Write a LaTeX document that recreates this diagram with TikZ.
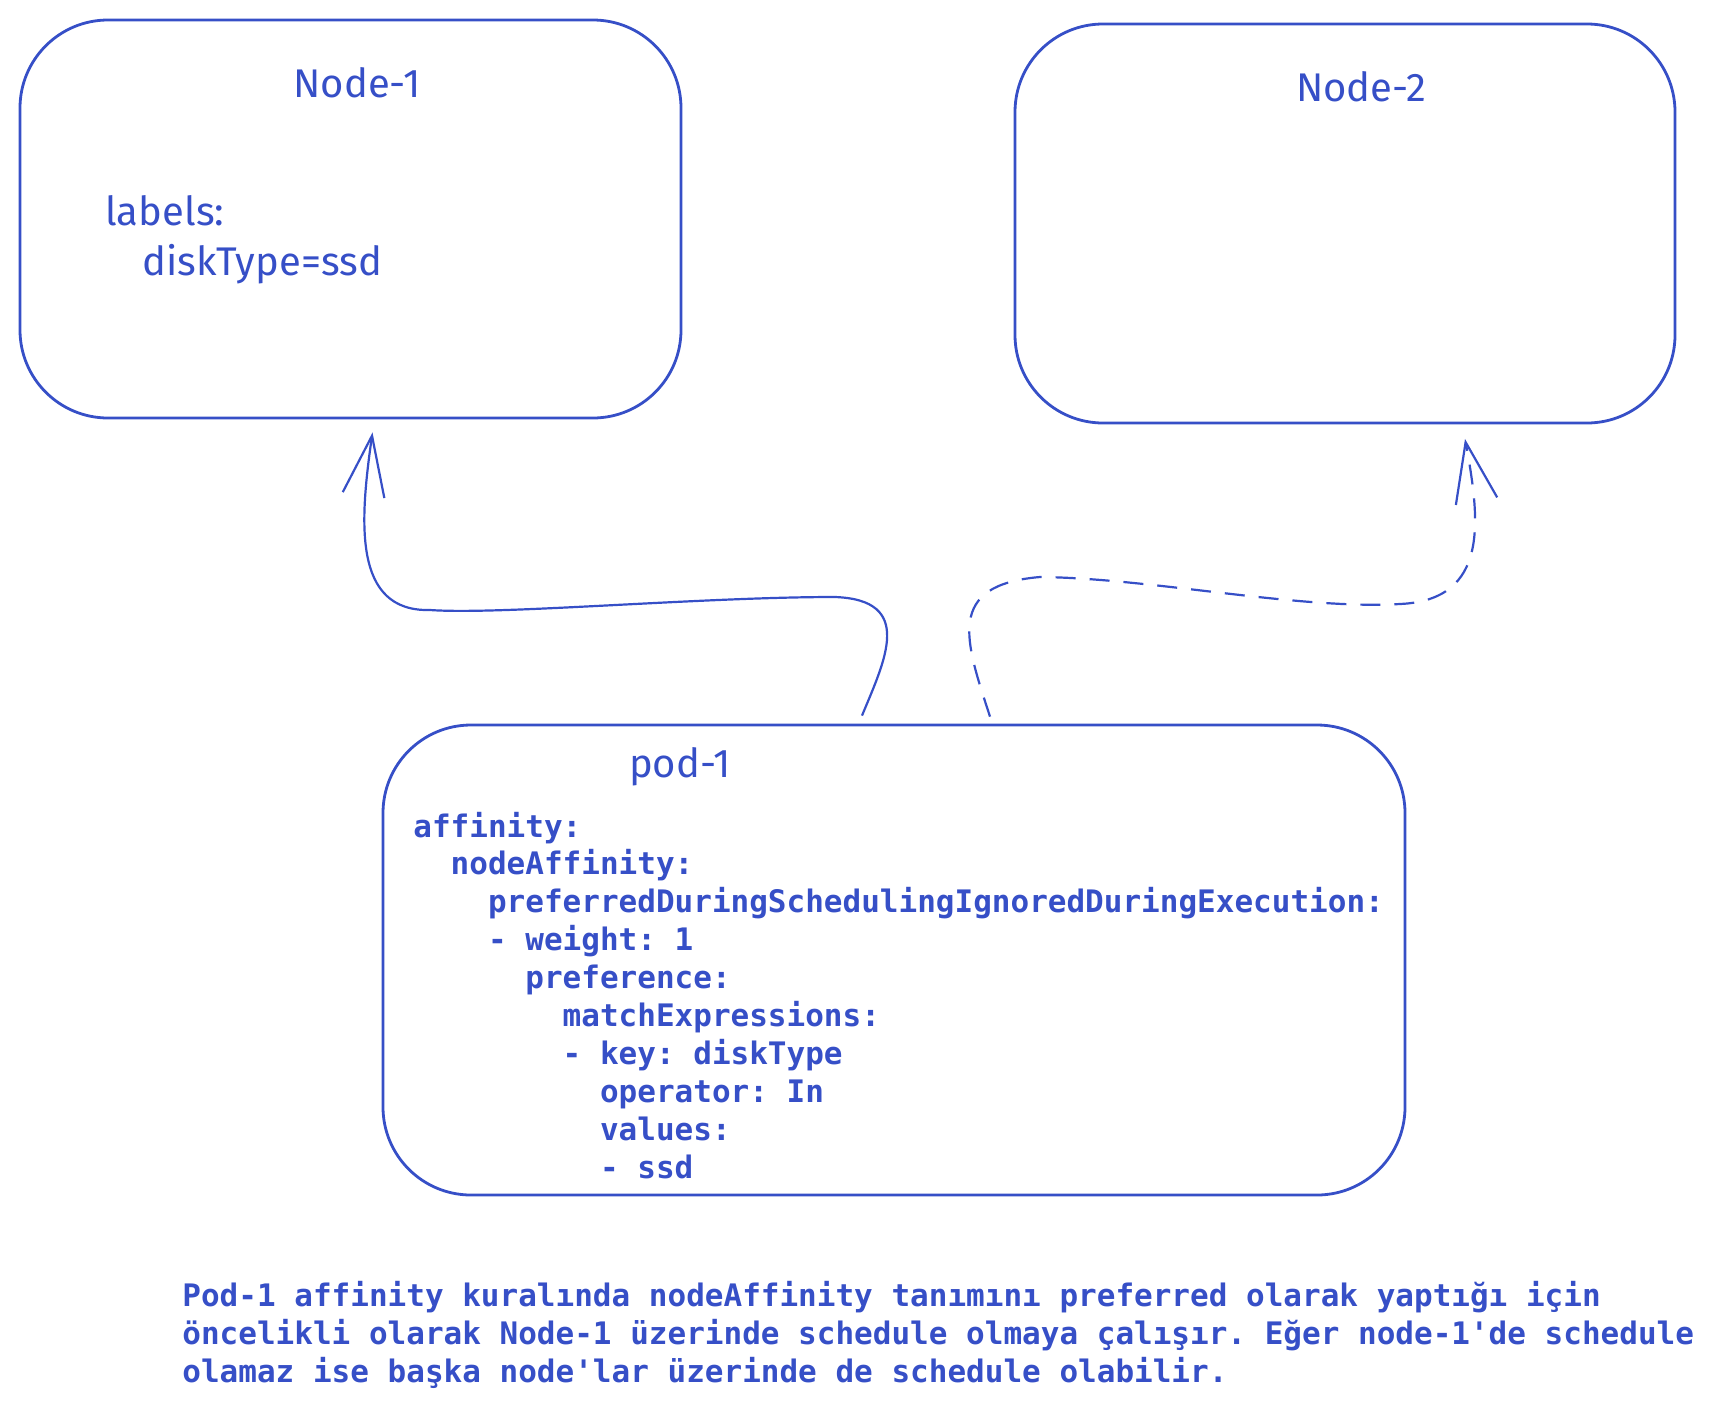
\documentclass[tikz,border=0pt]{standalone}
\usepackage{fontspec}
\setmonofont{DejaVu Sans Mono}
\newfontfamily\handfont{Fira Sans}
\usetikzlibrary{arrows.meta}
\definecolor{exblue}{HTML}{364FC7}

\begin{document}
\begin{tikzpicture}[x=0.5pt,y=-0.5pt,
  box/.style={draw=exblue,line width=1.4pt,rounded corners=44pt,inner sep=0pt},
  hand/.style={text=exblue,font=\handfont\fontsize{20}{25}\selectfont,inner sep=0pt},
  code/.style={text=exblue,font=\ttfamily\bfseries\fontsize{15.5}{19}\selectfont,inner sep=0pt,anchor=base west},
  link/.style={draw=exblue,line width=1.1pt,-{Straight Barb[length=30pt,width=21pt]}}]
  \useasboundingbox (0,0) rectangle (1719,1409);
  \node[box,minimum width=330.5pt,minimum height=199pt] (node1) at (350.5,219) {};
  \node[box,minimum width=330pt,minimum height=199.5pt] (node2) at (1345,223.5) {};
  \node[box,minimum width=511pt,minimum height=235pt] (pod1) at (894,960) {};
  \node[hand,anchor=base] (t1) at (357,97) {Node-1};
  \node[hand,anchor=base] (t2) at (1361,101) {Node-2};
  \node[hand,anchor=base] (t3) at (680,777) {pod-1};
  \node[hand,anchor=base west] (lab) at (105,225) {labels:};
  \node[hand,anchor=base west] (disk) at (142,275) {diskType=ssd};
  \foreach \t [count=\i] in {affinity:,~~nodeAffinity:,~~~~preferredDuringSchedulingIgnoredDuringExecution:,
    ~~~~- weight: 1,~~~~~~preference:,~~~~~~~~matchExpressions:,~~~~~~~~- key: diskType,
    ~~~~~~~~~~operator: In,~~~~~~~~~~values:,~~~~~~~~~~- ssd}
    \node[code] (c\i) at (413,837+37.9*\i-37.9) {\t};
  \foreach \t [count=\i] in {Pod-1 affinity kuralında nodeAffinity tanımını preferred olarak yaptığı için,
    öncelikli olarak Node-1 üzerinde schedule olmaya çalışır. Eğer node-1'de schedule,
    olamaz ise başka node'lar üzerinde de schedule olabilir.}
    \node[code] (n\i) at (182,1306+38*\i-38) {\t};
  \draw[link] ([xshift=-16pt,yshift=4pt]pod1.north)
    .. controls (885,660) and (915,600) .. (835,597)
    .. controls (700,597) and (500,615) .. (430,610)
    .. controls (352,612) and (360,520) .. ([xshift=11pt,yshift=-6.5pt]node1.south);
  \draw[link,dash pattern=on 10pt off 7pt] ([xshift=48pt,yshift=3.5pt]pod1.north)
    .. controls (965,640) and (945,585) .. (1040,577)
    .. controls (1150,578) and (1300,610) .. (1400,604)
    .. controls (1490,600) and (1480,520) .. ([xshift=60pt,yshift=-7.25pt]node2.south);
\end{tikzpicture}
\end{document}
